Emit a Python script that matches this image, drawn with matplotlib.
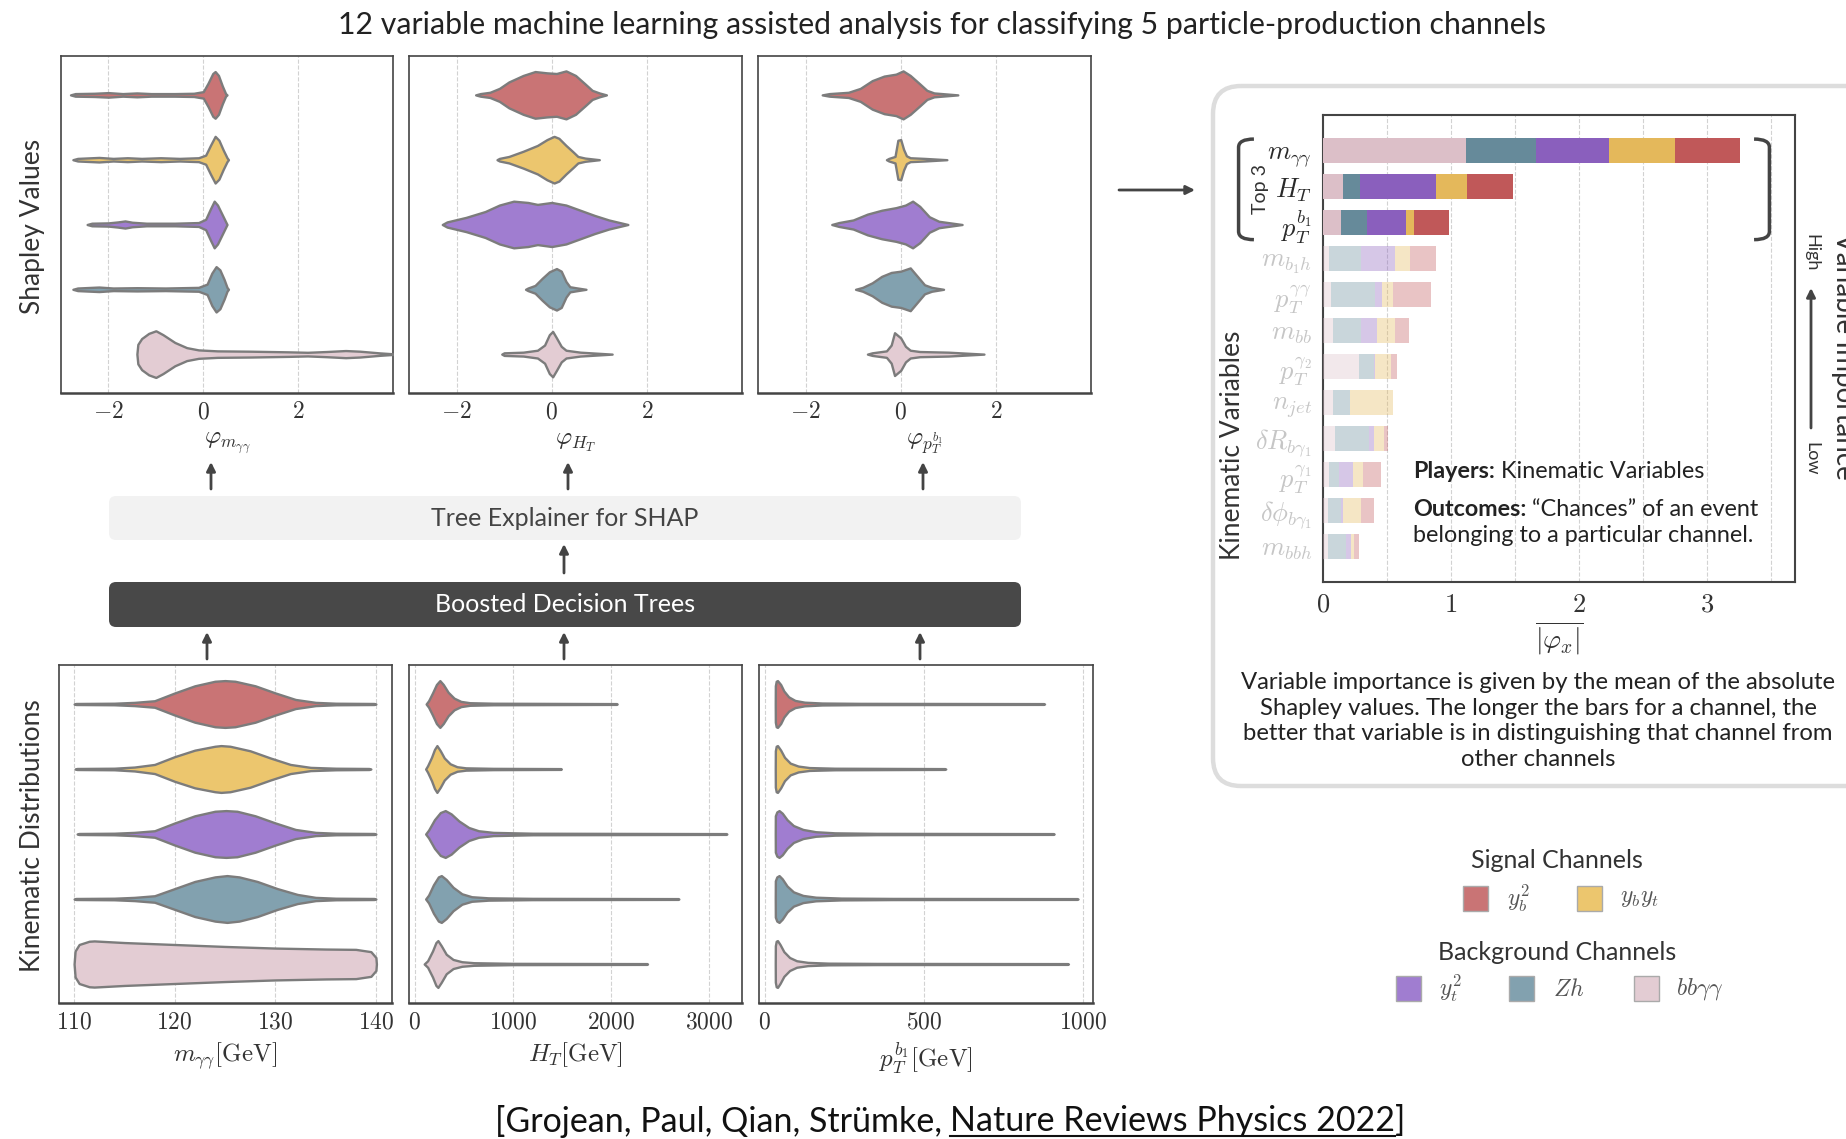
import numpy as np
import matplotlib
matplotlib.use("Agg")
import matplotlib.pyplot as plt
from matplotlib.patches import FancyBboxPatch, Rectangle, PathPatch
from matplotlib.path import Path
from matplotlib.ticker import FuncFormatter
from matplotlib.colors import to_rgba

# ---- channels (top-to-bottom order in the violin panels) ----
channels = ['$y_b^2$', '$y_by_t$', '$y_t^2$', '$Zh$', r'$bb\gamma\gamma$']
violin_colors = ['#c97475', '#ecc66e', '#a07dd0', '#82a1af', '#e3ccd3']
bar_colors = ['#c05859', '#e4b85b', '#8a5fbd', '#668a9a', '#dcbfc8']

# ---- mean |shapley| per variable, per channel ----
variables = [r'$m_{\gamma\gamma}$', r'$H_T$', r'$p_T^{b_1}$', r'$m_{b_1h}$', r'$p_T^{\gamma\gamma}$',
             r'$m_{bb}$', r'$p_T^{\gamma_2}$', r'$n_{jet}$', r'$\delta R_{b\gamma_1}$',
             r'$p_T^{\gamma_1}$', r'$\delta\phi_{b\gamma_1}$', r'$m_{bbh}$']
imp_bbgg = [1.116, 0.16, 0.142, 0.05, 0.063, 0.082, 0.281, 0.082, 0.092, 0.05, 0.04, 0.04]
imp_zh = [0.55, 0.133, 0.2, 0.25, 0.345, 0.218, 0.117, 0.126, 0.266, 0.076, 0.1, 0.142]
imp_yt2 = [0.566, 0.594, 0.31, 0.26, 0.057, 0.126, 0.01, 0.006, 0.044, 0.11, 0.016, 0.035]
imp_ybyt = [0.52, 0.24, 0.063, 0.12, 0.082, 0.139, 0.123, 0.332, 0.073, 0.073, 0.139, 0.028]
imp_yb2 = [0.51, 0.357, 0.269, 0.2, 0.297, 0.104, 0.044, 0.005, 0.035, 0.145, 0.104, 0.038]

# ---- violin outlines: (value, half width) ----
shap_mgg = [
    [(-2.8, 0), (-2.7, .02), (-2.3, .025), (-2.0, .035), (-1.7, .02), (-1.4, .03), (-1.1, .02), (-0.6, .02),
     (-0.2, .025), (0.0, .05), (0.1, .18), (0.2, .33), (0.25, .36), (0.32, .3), (0.4, .14), (0.47, .02), (0.5, 0)],
    [(-2.75, 0), (-2.65, .02), (-2.2, .035), (-1.9, .02), (-1.6, .03), (-1.3, .02), (-0.9, .03), (-0.5, .02),
     (-0.1, .03), (0.05, .07), (0.15, .22), (0.25, .36), (0.33, .3), (0.42, .15), (0.5, .03), (0.53, 0)],
    [(-2.45, 0), (-2.35, .02), (-2.0, .025), (-1.8, .04), (-1.65, .055), (-1.5, .035), (-1.2, .02), (-0.6, .02),
     (-0.1, .03), (0.05, .08), (0.15, .24), (0.23, .36), (0.3, .3), (0.4, .15), (0.48, .03), (0.5, 0)],
    [(-2.75, 0), (-2.65, .02), (-2.2, .035), (-1.9, .02), (-1.4, .025), (-0.8, .02), (-0.1, .03), (0.08, .08),
     (0.18, .25), (0.27, .35), (0.35, .3), (0.44, .15), (0.5, .03), (0.53, 0)],
    [(-1.4, 0), (-1.38, .15), (-1.3, .24), (-1.15, .32), (-1.0, .36), (-0.85, .3), (-0.6, .18), (-0.35, .1),
     (-0.1, .065), (0.3, .05), (1.0, .045), (1.8, .035), (2.2, .028), (2.6, .04), (3.0, .055), (3.3, .045),
     (3.7, .02), (4.1, 0)],
]
shap_ht = [
    [(-1.6, 0), (-1.5, .02), (-1.3, .04), (-1.1, .1), (-0.9, .2), (-0.6, .3), (-0.35, .36), (-0.1, .34),
     (0.1, .33), (0.3, .37), (0.5, .3), (0.7, .17), (0.85, .07), (1.0, .03), (1.15, 0)],
    [(-1.15, 0), (-1.1, .02), (-0.9, .05), (-0.6, .13), (-0.3, .22), (-0.1, .31), (0.05, .36), (0.15, .33),
     (0.3, .22), (0.45, .12), (0.55, .05), (0.7, .025), (1.0, 0)],
    [(-2.3, 0), (-2.2, .04), (-1.8, .11), (-1.4, .2), (-1.1, .3), (-0.8, .36), (-0.5, .34), (-0.3, .31),
     (0.0, .34), (0.3, .3), (0.6, .22), (0.9, .14), (1.2, .07), (1.4, .035), (1.6, 0)],
    [(-0.55, 0), (-0.5, .02), (-0.35, .06), (-0.2, .17), (-0.05, .27), (0.1, .32), (0.2, .28), (0.3, .12),
     (0.38, .04), (0.5, .025), (0.72, 0)],
    [(-1.05, 0), (-1.0, .02), (-0.6, .03), (-0.3, .06), (-0.15, .14), (-0.05, .3), (0.02, .35), (0.1, .25),
     (0.2, .12), (0.3, .06), (0.6, .03), (1.27, 0)],
]
shap_ptb = [
    [(-1.65, 0), (-1.5, .02), (-1.1, .04), (-0.85, .1), (-0.6, .22), (-0.35, .29), (-0.1, .32), (0.05, .37),
     (0.2, .3), (0.4, .17), (0.55, .07), (0.7, .03), (1.2, 0)],
    [(-0.3, 0), (-0.25, .02), (-0.12, .05), (-0.06, .3), (0.0, .31), (0.06, .16), (0.12, .06), (0.2, .03),
     (0.5, .02), (0.97, 0)],
    [(-1.45, 0), (-1.3, .03), (-1.0, .07), (-0.7, .16), (-0.4, .22), (-0.1, .26), (0.1, .3), (0.25, .36),
     (0.4, .28), (0.6, .12), (0.8, .05), (1.29, 0)],
    [(-0.95, 0), (-0.8, .03), (-0.6, .1), (-0.4, .2), (-0.2, .26), (0.0, .28), (0.2, .33), (0.35, .2),
     (0.5, .07), (0.65, .03), (0.9, 0)],
    [(-0.7, 0), (-0.6, .02), (-0.3, .05), (-0.2, .14), (-0.13, .33), (0.0, .25), (0.1, .12), (0.2, .06),
     (0.4, .04), (1.0, .03), (1.75, 0)],
]
kin_mgg = [
    [(110, 0), (110.2, .008), (114, .012), (116, .025), (118, .05), (120, .17), (122, .28), (124, .35),
     (125, .36), (126, .35), (128, .28), (130, .17), (132, .07), (134, .025), (136, .012), (139.8, .008), (140, 0)],
    [(110.1, 0), (110.3, .008), (114, .012), (116, .03), (118, .07), (120, .19), (122, .29), (124, .35),
     (124.6, .36), (125.5, .35), (127.5, .28), (129.5, .17), (131.5, .07), (133.5, .025), (136, .012),
     (139.3, .008), (139.5, 0)],
    [(110.3, 0), (110.5, .008), (114, .012), (116, .025), (118, .05), (120, .17), (122, .28), (124, .35),
     (125.1, .36), (126.2, .35), (128, .28), (130, .17), (132, .07), (134, .025), (136, .012), (139.8, .008),
     (140, 0)],
    [(110, 0), (110.2, .008), (114, .012), (116, .025), (118, .05), (120, .16), (122, .27), (124, .34),
     (125.2, .36), (126.4, .34), (128.2, .27), (130.2, .16), (132.2, .07), (134, .025), (136, .012),
     (139.8, .008), (140, 0)],
    [(110, 0), (110.1, .2), (110.5, .3), (111.5, .35), (112, .355), (115, .33), (120, .3), (125, .27),
     (130, .245), (135, .23), (138, .225), (139.5, .19), (140, .1), (140.05, 0)],
]
kin_ht = [
    [(115, 0), (140, .05), (180, .17), (220, .3), (255, .36), (290, .3), (340, .18), (400, .09), (470, .04),
     (560, .02), (800, .012), (2060, .006), (2065, 0)],
    [(110, 0), (130, .05), (170, .18), (200, .3), (225, .36), (260, .28), (300, .17), (360, .08), (430, .035),
     (520, .018), (800, .01), (1490, .006), (1495, 0)],
    [(110, 0), (140, .06), (200, .22), (260, .33), (310, .36), (370, .31), (450, .2), (550, .1), (650, .05),
     (800, .025), (1200, .012), (3180, .006), (3185, 0)],
    [(110, 0), (140, .06), (190, .22), (240, .34), (270, .36), (320, .3), (390, .18), (480, .08), (580, .035),
     (750, .018), (1200, .01), (2690, .006), (2695, 0)],
    [(95, 0), (130, .05), (180, .2), (215, .33), (235, .36), (270, .28), (320, .15), (390, .07), (480, .035),
     (600, .02), (1000, .01), (2370, .006), (2375, 0)],
]
kin_ptb = [
    [(33, 0), (33.3, .28), (36, .35), (40, .36), (50, .3), (60, .2), (75, .11), (95, .055), (125, .028),
     (180, .015), (300, .01), (875, .006), (878, 0)],
    [(33, 0), (33.3, .28), (36, .35), (40, .36), (50, .29), (62, .18), (80, .09), (105, .045), (140, .022),
     (220, .012), (565, .006), (568, 0)],
    [(33, 0), (33.3, .28), (38, .34), (45, .36), (55, .32), (70, .22), (90, .13), (120, .07), (160, .035),
     (220, .018), (350, .01), (905, .006), (908, 0)],
    [(33, 0), (33.3, .28), (38, .34), (45, .36), (55, .31), (70, .2), (90, .11), (120, .055), (160, .028),
     (240, .014), (400, .009), (980, .006), (983, 0)],
    [(33, 0), (33.3, .28), (36, .35), (40, .36), (48, .3), (60, .19), (78, .1), (100, .05), (135, .025),
     (200, .013), (350, .009), (950, .006), (953, 0)],
]

W, H = 1846, 1139
plt.rcParams['font.family'] = ['Lato', 'DejaVu Sans']
plt.rcParams['mathtext.fontset'] = 'cm'
TXT = '#333333'
EDGE = '#7c7c7c'

fig = plt.figure(figsize=(W / 100, H / 100), dpi=100)
bg = fig.add_axes([0, 0, 1, 1])
bg.set_xlim(0, W)
bg.set_ylim(H, 0)
bg.axis('off')


def px_axes(x0, y0, x1, y1):
    a = fig.add_axes([x0 / W, 1 - y1 / H, (x1 - x0) / W, (y1 - y0) / H])
    a.set_zorder(2)
    return a


mathfmt = FuncFormatter(lambda v, p: f'${v:g}$')


def violin_panel(ax, profiles, xlim, ticks, xlabel):
    for row, (prof, c) in enumerate(zip(profiles, violin_colors)):
        xs = np.array([p[0] for p in prof])
        hw = np.array([p[1] for p in prof])
        ax.fill_between(xs, row - hw, row + hw, facecolor=c, edgecolor=EDGE, linewidth=1.7, zorder=3)
    ax.set_xlim(*xlim)
    ax.set_ylim(4.6, -0.6)
    ax.set_yticks([])
    ax.set_xticks(ticks)
    ax.xaxis.set_major_formatter(mathfmt)
    ax.tick_params(axis='x', length=0, pad=6, labelsize=17, colors=TXT)
    ax.grid(axis='x', ls='--', color='#d2d2d2', lw=0.8)
    ax.set_axisbelow(True)
    for s in ax.spines.values():
        s.set_color('#444444')
        s.set_linewidth(1.2)
    ax.spines['bottom'].set_linewidth(1.8)
    ax.set_xlabel(xlabel, fontsize=18, color=TXT, labelpad=6)


# top row: shapley values
violin_panel(px_axes(61, 56, 393, 393), shap_mgg, (-3, 4), [-2, 0, 2], r'$\varphi_{m_{\gamma\gamma}}$')
violin_panel(px_axes(409, 56, 742, 393), shap_ht, (-3, 4), [-2, 0, 2], r'$\varphi_{H_T}$')
violin_panel(px_axes(758, 56, 1091, 393), shap_ptb, (-3, 4), [-2, 0, 2], r'$\varphi_{p_T^{b_1}}$')

# bottom row: kinematic distributions
violin_panel(px_axes(59, 665, 392, 1003), kin_mgg, (108.5, 141.6), [110, 120, 130, 140],
             r'$m_{\gamma\gamma}[\mathrm{GeV}]$')
violin_panel(px_axes(409, 665, 742, 1003), kin_ht, (-60, 3340), [0, 1000, 2000, 3000],
             r'$H_T[\mathrm{GeV}]$')
violin_panel(px_axes(759, 665, 1093, 1003), kin_ptb, (-18, 1030), [0, 500, 1000],
             r'$p_T^{b_1}[\mathrm{GeV}]$')

fig.text(33 / W, 1 - 226 / H, 'Shapley Values', rotation=90, ha='center', va='center', fontsize=19, color=TXT)
fig.text(33 / W, 1 - 836 / H, 'Kinematic Distributions', rotation=90, ha='center', va='center',
         fontsize=19, color=TXT)

# flow boxes and arrows
bg.add_patch(FancyBboxPatch((109, 496), 912, 44, boxstyle='round,pad=0,rounding_size=7',
                            facecolor='#f2f2f2', edgecolor='none'))
bg.text(565, 518, 'Tree Explainer for SHAP', ha='center', va='center', fontsize=18, color='#444444')
bg.add_patch(FancyBboxPatch((109, 582), 912, 45, boxstyle='round,pad=0,rounding_size=7',
                            facecolor='#484848', edgecolor='none'))
bg.text(565, 604, 'Boosted Decision Trees', ha='center', va='center', fontsize=18, color='white')

arrow_kw = dict(arrowstyle='-|>', color='#444444', lw=2, mutation_scale=13, shrinkA=0, shrinkB=0)
for ax_x in [211, 568, 923]:
    bg.annotate('', xy=(ax_x, 462), xytext=(ax_x, 489), arrowprops=arrow_kw)
bg.annotate('', xy=(564, 544), xytext=(564, 573), arrowprops=arrow_kw)
for ax_x in [207, 564, 920]:
    bg.annotate('', xy=(ax_x, 632), xytext=(ax_x, 659), arrowprops=arrow_kw)
bg.annotate('', xy=(1195, 190), xytext=(1119, 190), arrowprops=arrow_kw)

# right box
bg.add_patch(FancyBboxPatch((1213, 86), 700, 700, boxstyle='round,pad=0,rounding_size=28',
                            facecolor='none', edgecolor='#dddddd', lw=3.2))

# stacked importance bars
axb = px_axes(1323, 115, 1795, 582)
rows = np.arange(len(variables))
left = np.zeros(len(variables))
for vals, c in zip([imp_bbgg, imp_zh, imp_yt2, imp_ybyt, imp_yb2], bar_colors[::-1]):
    cols = [to_rgba(c, 1.0 if r < 3 else 0.35) for r in rows]
    axb.barh(rows, vals, left=left, height=0.7, color=cols, zorder=3)
    left += np.array(vals)
axb.set_xlim(0, 3.69)
axb.set_ylim(12, -1)
axb.set_yticks(rows)
axb.set_yticklabels(variables, fontsize=19)
axb.set_xticks([0, 1, 2, 3])
axb.set_xticks([0.5, 1.5, 2.5, 3.5], minor=True)
axb.xaxis.set_major_formatter(mathfmt)
axb.tick_params(axis='both', which='both', length=0, labelsize=19, labelcolor=TXT)
axb.tick_params(axis='y', pad=8)
axb.tick_params(axis='x', pad=7)
for r, lab in enumerate(axb.get_yticklabels()):
    lab.set_color('#2a2a2a' if r < 3 else '#c6c6c6')
axb.grid(axis='x', which='both', ls='--', color='#d2d2d2', lw=0.8)
axb.set_axisbelow(True)
for s in axb.spines.values():
    s.set_color('#444444')
    s.set_linewidth(1.5)
axb.set_xlabel(r'$\overline{|\varphi_x|}$', fontsize=20, color=TXT, labelpad=2)

# "Top 3" brackets
bl = Path([(-0.54, -0.33), (-0.66, -0.33), (-0.66, -0.1), (-0.66, 2.24), (-0.66, 2.47), (-0.54, 2.47)],
          [Path.MOVETO, Path.CURVE3, Path.CURVE3, Path.LINETO, Path.CURVE3, Path.CURVE3])
br = Path([(3.37, -0.33), (3.49, -0.33), (3.49, -0.1), (3.49, 2.24), (3.49, 2.47), (3.37, 2.47)],
          [Path.MOVETO, Path.CURVE3, Path.CURVE3, Path.LINETO, Path.CURVE3, Path.CURVE3])
for p in [bl, br]:
    axb.add_patch(PathPatch(p, facecolor='none', edgecolor='#444444', lw=2.5, clip_on=False, zorder=5))
axb.text(-0.49, 1.07, 'Top 3', rotation=90, ha='center', va='center', fontsize=14, color=TXT, clip_on=False)

# overlay layer for text that sits on top of the axes
fg = fig.add_axes([0, 0, 1, 1])
fg.set_zorder(10)
fg.set_xlim(0, W)
fg.set_ylim(H, 0)
fg.axis('off')

renderer = fig.canvas.get_renderer()


def run_text(x, y, parts, **kw):
    for s, wt in parts:
        t = fg.text(x, y, s, fontweight=wt, ha='left', va='center', **kw)
        x += t.get_window_extent(renderer=renderer).width


run_text(1413, 471, [('Players:', 'bold'), (' Kinematic Variables', 'normal')], fontsize=16.8, color='#222222')
run_text(1413, 510, [('Outcomes:', 'bold'), (' \u201cChances\u201d of an event', 'normal')],
         fontsize=16.8, color='#222222')
fg.text(1413, 536, 'belonging to a particular channel.', ha='left', va='center', fontsize=16.8, color='#222222')

bg.text(1233, 445, 'Kinematic Variables', rotation=90, ha='center', va='center', fontsize=19, color=TXT)
bg.text(1831, 356, 'Variable Importance', rotation=-90, ha='left', va='center', fontsize=20, color=TXT)
bg.text(1811, 253, 'High', rotation=-90, ha='center', va='center', fontsize=13, color=TXT)
bg.text(1811, 459, 'Low', rotation=-90, ha='center', va='center', fontsize=13, color=TXT)
bg.annotate('', xy=(1811, 288), xytext=(1811, 428), arrowprops=arrow_kw)

bg.text(1538, 721, 'Variable importance is given by the mean of the absolute\n'
        'Shapley values. The longer the bars for a channel, the\n'
        'better that variable is in distinguishing that channel from\n'
        'other channels', ha='center', va='center', multialignment='center', fontsize=17.2,
        color='#222222', linespacing=1.26)

# legend
bg.text(1557, 861, 'Signal Channels', ha='center', va='center', fontsize=18, color=TXT)
bg.text(1557, 952, 'Background Channels', ha='center', va='center', fontsize=18, color=TXT)
leg_pos = [(1463, 886, 1507), (1577, 886, 1620), (1396, 976, 1439), (1509, 976, 1553), (1634, 976, 1676)]
for (px0, py0, lx), c, lab in zip(leg_pos, violin_colors, channels):
    bg.add_patch(Rectangle((px0, py0), 25, 25, facecolor=c, edgecolor='#aaaaaa', lw=1))
    bg.text(lx, py0 + 12.5, lab, ha='left', va='center', fontsize=17, color='#555555')

# title and citation
bg.text(942, 25, '12 variable machine learning assisted analysis for classifying 5 particle-production channels',
        ha='center', va='center', fontsize=21.8, color='#222222')

cite_a = '[Grojean, Paul, Qian, Str\u00fcmke,'
cite_b = 'Nature Reviews Physics 2022'
cite_kw = dict(fontsize=24.5, color='#111111', va='center', ha='left')
ta = bg.text(0, 1121, cite_a, **cite_kw)
tb = bg.text(0, 1121, cite_b, **cite_kw)
tc = bg.text(0, 1121, ']', **cite_kw)
wa = ta.get_window_extent(renderer=renderer).width
wb = tb.get_window_extent(renderer=renderer).width
wc = tc.get_window_extent(renderer=renderer).width
gap = 8
x0 = 950 - (wa + gap + wb + wc) / 2
ta.set_x(x0)
tb.set_x(x0 + wa + gap)
tc.set_x(x0 + wa + gap + wb)
bg.plot([x0 + wa + gap, x0 + wa + gap + wb], [1136, 1136], color='#111111', lw=1.5)

fig.savefig('out.png', dpi=100)
